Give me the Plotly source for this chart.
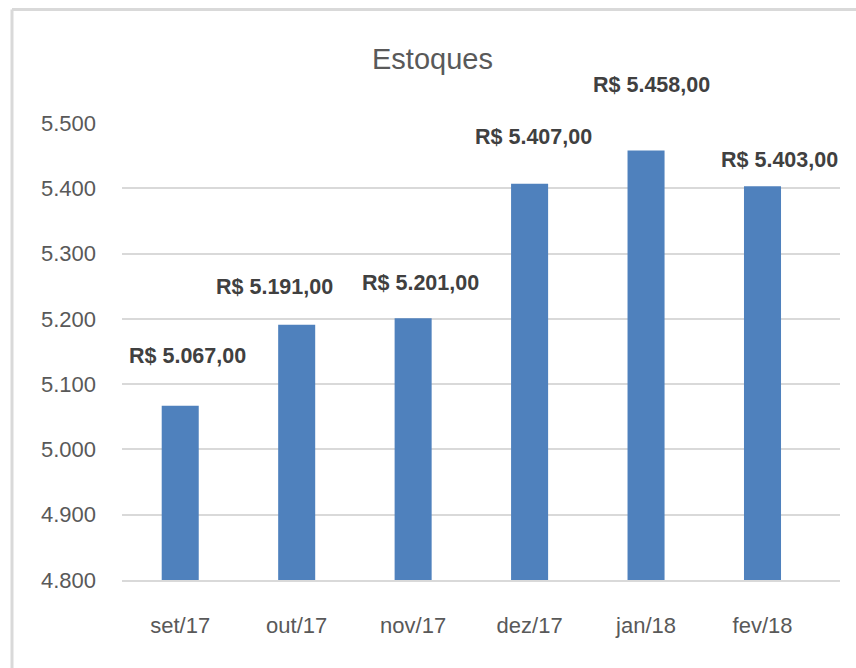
import plotly.graph_objects as go

# ---- data ----
categories = ["set/17", "out/17", "nov/17", "dez/17", "jan/18", "fev/18"]
estoques = [5067, 5191, 5201, 5407, 5458, 5403]
y_tickvals = [4800, 4900, 5000, 5100, 5200, 5300, 5400, 5500]

# ---- label placement (style, pixel offsets from the bar top) ----
label_xshift = [7, -22, 7, 4, 5, 17]
label_yshift = [50, 38, 35, 47, 65, 26]


def brl(v):
    s = f"{v:,.2f}"  # 5,067.00
    s = s.replace(",", "X").replace(".", ",").replace("X", ".")
    return "R$ " + s


FONT = "Liberation Sans, Arial, sans-serif"
W, H = 856, 668
# reference pixel geometry of plot area: x 122..840, y 123..580
ML = 122
MT = 123
MR = W - 840
MB = H - 580
pw = W - ML - MR
ph = H - MT - MB

fig = go.Figure()
fig.add_trace(go.Bar(
    x=categories,
    y=estoques,
    marker=dict(color="#4F81BD", line=dict(width=0)),
    hoverinfo="x+y",
))

for c, v, dx, dy in zip(categories, estoques, label_xshift, label_yshift):
    fig.add_annotation(
        x=c, y=v, xref="x", yref="y",
        text=f"<b>{brl(v)}</b>",
        showarrow=False,
        xanchor="center", yanchor="middle",
        xshift=dx, yshift=dy,
        font=dict(family=FONT, size=21.5, color="#404040"),
    )

# chart frame (light gray border, cropped on right/bottom)
def px_x(p):
    return (p - ML) / pw

def px_y(p):
    return (H - MB - p) / ph

frame = dict(color="#D9D9D9", width=3)
fig.add_shape(type="line", xref="paper", yref="paper",
              x0=px_x(12), x1=px_x(W + 10), y0=px_y(9.5), y1=px_y(9.5),
              line=frame, layer="below")
fig.add_shape(type="line", xref="paper", yref="paper",
              x0=px_x(12), x1=px_x(12), y0=px_y(9.5), y1=px_y(H + 10),
              line=frame, layer="below")

fig.update_layout(
    width=W, height=H,
    margin=dict(l=ML, r=MR, t=MT, b=MB),
    paper_bgcolor="white",
    plot_bgcolor="white",
    separators=",.",
    bargap=0.682,
    showlegend=False,
    title=dict(
        text="Estoques",
        x=432.5 / W, xref="container", xanchor="center",
        y=1 - 59 / H, yref="container", yanchor="middle",
        font=dict(family=FONT, size=29, color="#595959"),
    ),
    font=dict(family=FONT, size=22, color="#595959"),
)

fig.update_xaxes(
    showgrid=False,
    showline=True, linecolor="#D9D9D9", linewidth=1.5,
    ticks="", ticklabelstandoff=25,
    tickfont=dict(family=FONT, size=22, color="#595959"),
    fixedrange=True,
)
fig.update_yaxes(
    range=[4800, 5500],
    tickvals=y_tickvals,
    tickformat=",d",
    showgrid=True, gridcolor="#D9D9D9", gridwidth=1.5,
    zeroline=False, showline=False,
    ticks="", ticklabelstandoff=25,
    tickfont=dict(family=FONT, size=22, color="#595959"),
    fixedrange=True,
)

fig.write_html(
    "out.html",
    config={"displayModeBar": False},
    post_script="document.body.style.margin='0';document.body.style.overflow='hidden';",
)
